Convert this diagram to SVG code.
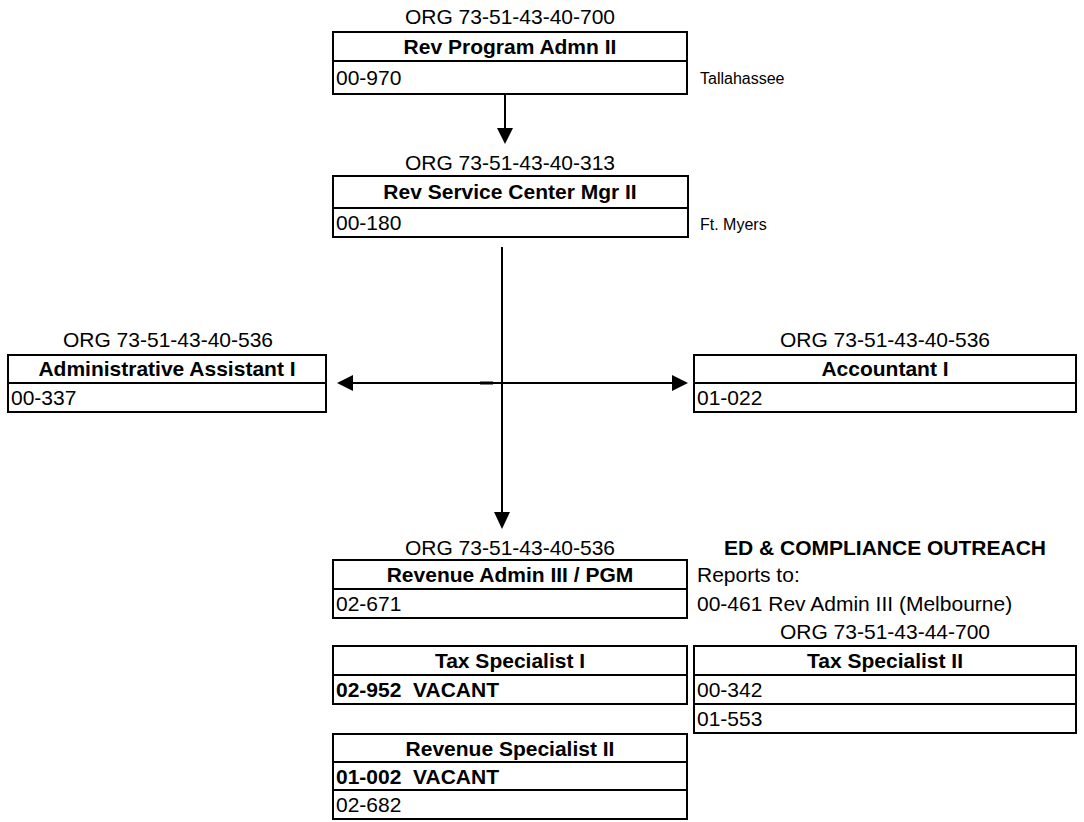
<svg xmlns="http://www.w3.org/2000/svg" width="1084" height="822" viewBox="0 0 1084 822">
  <style>
    text { font-family: "Liberation Sans", Arial, sans-serif; font-size: 21px; fill: #000; }
    .b { font-weight: bold; }
    .c { text-anchor: middle; }
    .sm { font-size: 16px; }
    .pre { white-space: pre; }
    .box { fill: #fff; stroke: #000; stroke-width: 2; }
    .div { stroke: #000; stroke-width: 2; }
    .conn { stroke: #000; stroke-width: 2; fill: none; }
    .head { fill: #000; }
  </style>

  <!-- connectors -->
  <g id="connectors">
    <line class="conn" x1="505" y1="95" x2="505" y2="130"/>
    <polygon class="head" points="497,128 513,128 505,144"/>
    <line class="conn" x1="502" y1="247" x2="502" y2="514"/>
    <polygon class="head" points="494,512 510,512 502,529"/>
    <line class="conn" x1="350" y1="383" x2="675" y2="383"/>
    <line stroke="#000" stroke-width="3" x1="480" y1="383" x2="493" y2="383"/>
    <polygon class="head" points="353,375 353,391 337,383"/>
    <polygon class="head" points="672,375 672,391 688,383"/>
  </g>

  <!-- Rev Program Admn II -->
  <g id="rev-program-admn">
    <text class="c" x="510" y="24">ORG 73-51-43-40-700</text>
    <rect class="box" x="333" y="32" width="354" height="62"/>
    <line class="div" x1="333" y1="61" x2="687" y2="61"/>
    <text class="b c" x="510" y="54">Rev Program Admn II</text>
    <text x="336" y="85">00-970</text>
    <text class="sm" x="700" y="84">Tallahassee</text>
  </g>

  <!-- Rev Service Center Mgr II -->
  <g id="rev-service-center">
    <text class="c" x="510" y="170">ORG 73-51-43-40-313</text>
    <rect class="box" x="333" y="176" width="355" height="61"/>
    <line class="div" x1="333" y1="208" x2="688" y2="208"/>
    <text class="b c" x="510" y="199">Rev Service Center Mgr II</text>
    <text x="336" y="230">00-180</text>
    <text class="sm" x="700" y="230">Ft. Myers</text>
  </g>

  <!-- Administrative Assistant I -->
  <g id="admin-assistant">
    <text class="c" x="168" y="347">ORG 73-51-43-40-536</text>
    <rect class="box" x="8" y="355" width="318" height="57"/>
    <line class="div" x1="8" y1="383" x2="326" y2="383"/>
    <text class="b c" x="167" y="376">Administrative Assistant I</text>
    <text x="11" y="405">00-337</text>
  </g>

  <!-- Accountant I -->
  <g id="accountant">
    <text class="c" x="885" y="347">ORG 73-51-43-40-536</text>
    <rect class="box" x="694" y="355" width="382" height="57"/>
    <line class="div" x1="694" y1="383" x2="1076" y2="383"/>
    <text class="b c" x="885" y="376">Accountant I</text>
    <text x="697" y="405">01-022</text>
  </g>

  <!-- Revenue Admin III / PGM -->
  <g id="revenue-admin">
    <text class="c" x="510" y="555">ORG 73-51-43-40-536</text>
    <rect class="box" x="333" y="560" width="354" height="58"/>
    <line class="div" x1="333" y1="589" x2="687" y2="589"/>
    <text class="b c" x="510" y="582">Revenue Admin III / PGM</text>
    <text x="336" y="611">02-671</text>
  </g>

  <!-- Ed & Compliance Outreach note -->
  <g id="outreach-note">
    <text class="b c" x="885" y="555">ED &amp; COMPLIANCE OUTREACH</text>
    <text x="697" y="582">Reports to:</text>
    <text x="697" y="611">00-461 Rev Admin III (Melbourne)</text>
  </g>

  <!-- Tax Specialist I -->
  <g id="tax-specialist-1">
    <rect class="box" x="333" y="646" width="354" height="58"/>
    <line class="div" x1="333" y1="675" x2="687" y2="675"/>
    <text class="b c" x="510" y="668">Tax Specialist I</text>
    <text class="b pre" x="336" y="697">02-952  VACANT</text>
  </g>

  <!-- Tax Specialist II -->
  <g id="tax-specialist-2">
    <text class="c" x="885" y="639">ORG 73-51-43-44-700</text>
    <rect class="box" x="694" y="646" width="382" height="87"/>
    <line class="div" x1="694" y1="675" x2="1076" y2="675"/>
    <line class="div" x1="694" y1="704" x2="1076" y2="704"/>
    <text class="b c" x="885" y="668">Tax Specialist II</text>
    <text x="697" y="697">00-342</text>
    <text x="697" y="726">01-553</text>
  </g>

  <!-- Revenue Specialist II -->
  <g id="revenue-specialist-2">
    <rect class="box" x="333" y="734" width="354" height="85"/>
    <line class="div" x1="333" y1="762" x2="687" y2="762"/>
    <line class="div" x1="333" y1="790" x2="687" y2="790"/>
    <text class="b c" x="510" y="756">Revenue Specialist II</text>
    <text class="b pre" x="336" y="784">01-002  VACANT</text>
    <text x="336" y="812">02-682</text>
  </g>
</svg>
